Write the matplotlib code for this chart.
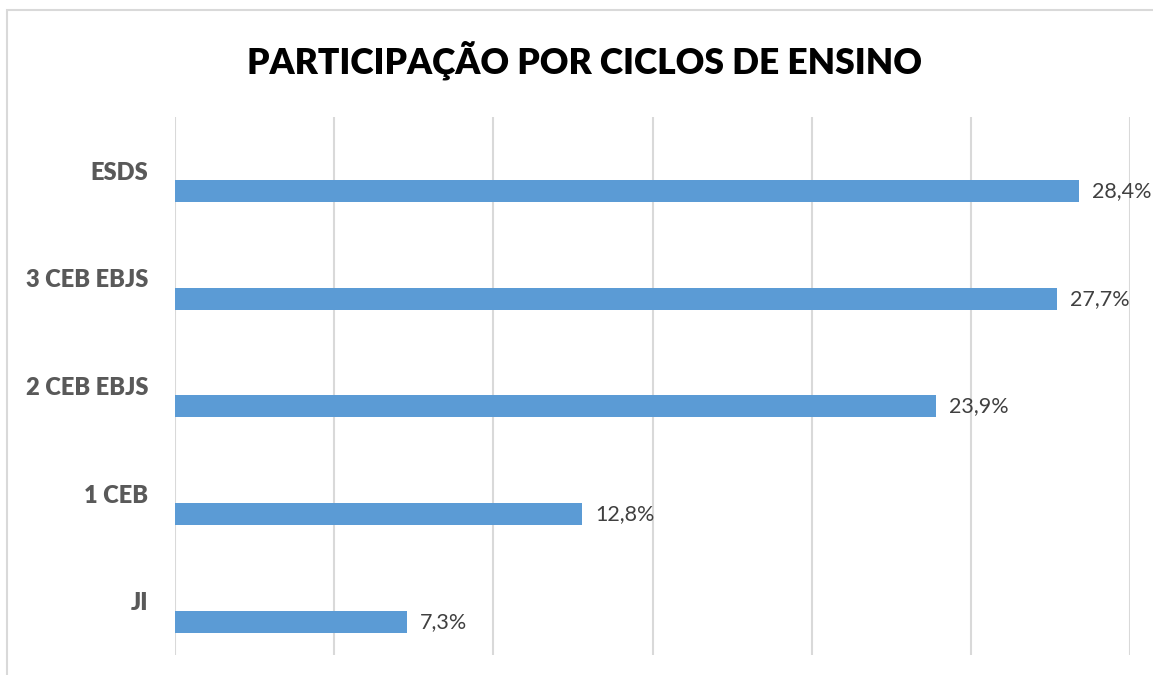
import matplotlib.pyplot as plt
from matplotlib.patches import Rectangle

# dados
ciclos = ["ESDS", "3 CEB EBJS", "2 CEB EBJS", "1 CEB", "JI"]
valores = [28.4, 27.7, 23.9, 12.8, 7.3]
rotulos = ["28,4%", "27,7%", "23,9%", "12,8%", "7,3%"]

W, H = 1153, 675
fig = plt.figure(figsize=(W / 100, H / 100), dpi=100)
plt.rcParams['font.family'] = ['Lato', 'DejaVu Sans']

# moldura cinza (sai da imagem à direita e em baixo)
fig.patches.append(Rectangle((7 / W, -0.1), 1.2, (H - 10) / H + 0.1,
                             transform=fig.transFigure, fill=False,
                             edgecolor='#d9d9d9', linewidth=1.5))

ax = fig.add_axes([175 / W, (H - 655) / H, (1130 - 175) / W, (655 - 117) / H])

pos = list(range(len(ciclos)))
barras = [p + 0.19 for p in pos]
ax.barh(barras, valores, height=0.205, color='#5b9bd5')

for y, v, r in zip(barras, valores, rotulos):
    ax.text(v + 0.4, y, r, va='center', ha='left', fontsize=15.5, color='#404040')

ax.set_xlim(0, 30)
ax.set_ylim(len(ciclos) - 0.5, -0.5)
ax.set_xticks([0, 5, 10, 15, 20, 25, 30])
ax.xaxis.set_tick_params(length=0, labelbottom=False)
ax.grid(axis='x', color='#d9d9d9', linewidth=1.5)
ax.set_axisbelow(True)

ax.set_yticks(pos)
ax.set_yticklabels(ciclos, fontsize=17, fontweight='heavy', color='#595959')
ax.yaxis.set_tick_params(length=0, pad=19)

for s in ax.spines.values():
    s.set_visible(False)

fig.text(584 / W, 1 - 60 / H, "PARTICIPAÇÃO POR CICLOS DE ENSINO",
         ha='center', va='center', fontsize=25.5, fontweight='heavy', color='black')

fig.savefig('out.png', dpi=100)
